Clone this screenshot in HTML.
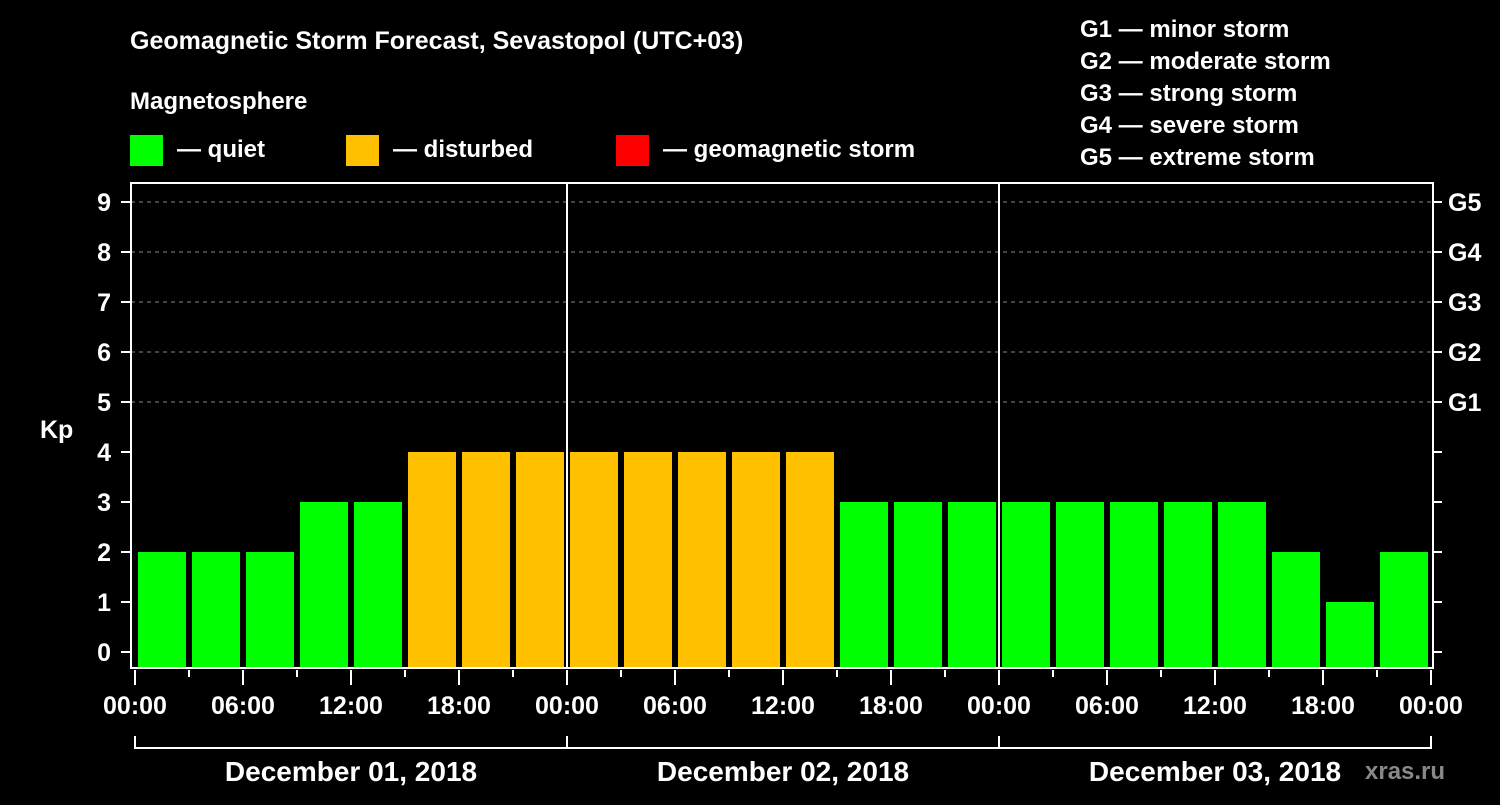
<!DOCTYPE html>
<html><head><meta charset="utf-8"><style>
body{margin:0;background:#000;}
svg text{font-family:"Liberation Sans",sans-serif;font-weight:bold;fill:#fff;}
</style></head><body>
<svg id="c" width="1500" height="800" viewBox="0 0 1500 800">
<rect width="1500" height="800" fill="#000"/>
<text x="130" y="49" font-size="25">Geomagnetic Storm Forecast, Sevastopol (UTC+03)</text>
<text x="130" y="109" font-size="24">Magnetosphere</text>
<g><rect x="130" y="135" width="33" height="31" fill="#00ff00"/><text x="177" y="157" font-size="24">— quiet</text></g>
<g><rect x="346" y="135" width="33" height="31" fill="#ffc000"/><text x="393" y="157" font-size="24">— disturbed</text></g>
<g><rect x="616" y="135" width="33" height="31" fill="#ff0000"/><text x="663" y="157" font-size="24">— geomagnetic storm</text></g>
<g font-size="24">
<text x="1080" y="37">G1 — minor storm</text><text x="1080" y="69">G2 — moderate storm</text><text x="1080" y="101">G3 — strong storm</text><text x="1080" y="133">G4 — severe storm</text><text x="1080" y="165">G5 — extreme storm</text></g>
<text x="40" y="438" font-size="25">Kp</text>
<text x="1365" y="779" font-size="24" fill="#888" style="fill:#888">xras.ru</text>
<g id="plot"></g>
</svg>
<script>
const kpValues=[2,2,2,3,3,4,4,4,4,4,4,4,4,3,3,3,3,3,3,3,3,2,1,2];
const xTickLabels=["00:00","06:00","12:00","18:00","00:00","06:00","12:00","18:00","00:00","06:00","12:00","18:00","00:00"];
const dayLabels=["December 01, 2018","December 02, 2018","December 03, 2018"];
const yTicks=[0,1,2,3,4,5,6,7,8,9];
const gLabels=["G1","G2","G3","G4","G5"];
const NS="http://www.w3.org/2000/svg";
const g=document.getElementById('plot');
const X0=135,SLOT=54,Y0=652,UNIT=50,L=131,R=1433,T=183,B=668;
const xs=i=>X0+i*SLOT, ys=v=>Y0-v*UNIT;
function mk(t,a,p){const e=document.createElementNS(NS,t);for(const k in a)e.setAttribute(k,a[k]);(p||g).appendChild(e);return e;}
// grid
yTicks.forEach(v=>{
 if(v>=5){const l=mk('line',{x1:L,x2:R,y1:ys(v),y2:ys(v),stroke:'#888','stroke-dasharray':'4,4','stroke-width':1});
 
 }
 const t=mk('line',{x1:121,x2:L,y1:ys(v),y2:ys(v),stroke:'#fff','stroke-width':2});
 
 
 const tr=mk('line',{x1:R,x2:R+9,y1:ys(v),y2:ys(v),stroke:'#fff','stroke-width':2});
 
 
 const tx=mk('text',{x:111,y:ys(v)+9,'font-size':25,'text-anchor':'end'});tx.textContent=v;
 
 
});
gLabels.forEach((s,i)=>{const tx=mk('text',{x:1448,y:ys(5+i)+9,'font-size':25});tx.textContent=s;
 
 });
// bars
kpValues.forEach((v,i)=>{
 const col=v>=5?'#ff0000':(v>=4?'#ffc000':'#00ff00');
 const r=mk('rect',{x:xs(i)+3,y:ys(v),width:48,height:B-1-ys(v),fill:col});
 
 
});
// day separators
[8,16].forEach(i=>{const l=mk('line',{x1:xs(i),x2:xs(i),y1:T,y2:B,stroke:'#fff','stroke-width':2});
 
 });
const fr=mk('rect',{x:L,y:T,width:R-L,height:B-T,fill:'none',stroke:'#fff','stroke-width':2});


// x ticks
for(let i=0;i<=24;i++){
 const major=i%2==0;
 const l=mk('line',{x1:xs(i),x2:xs(i),y1:B+2,y2:major?B+17:B+9,stroke:'#fff','stroke-width':2});
 
 
}
xTickLabels.forEach((s,j)=>{const tx=mk('text',{x:xs(j*2),y:714,'font-size':25,'text-anchor':'middle'});tx.textContent=s;
 
 });
// day brackets
dayLabels.forEach((s,d)=>{
 const a=xs(d*8),b=xs(d*8+8);
 const p=mk('path',{d:`M${a},736 V748 H${b} V736`,fill:'none',stroke:'#fff','stroke-width':2});
 
 
 const tx=mk('text',{x:(a+b)/2,y:781,'font-size':28,'text-anchor':'middle'});tx.textContent=s;
 
 
});
</script>
</body></html>
